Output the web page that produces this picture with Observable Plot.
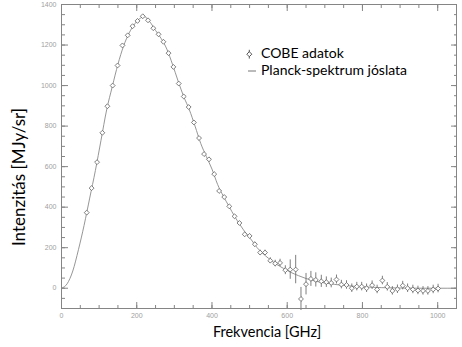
<!DOCTYPE html>
<html><head><meta charset="utf-8">
<script src="https://cdn.jsdelivr.net/npm/d3@7"></script>
<script src="https://cdn.jsdelivr.net/npm/@observablehq/plot@0.6"></script>
<style>body{margin:0;background:#fff}</style>
</head><body><div id="chart"></div>
<script>
// COBE data points (frequency, intensity, error)
const freq = [67, 80, 94.5, 108.6, 122, 136, 149, 162, 176, 189, 202, 216, 230, 244, 258, 271, 284.5, 297.5, 311.7, 325, 338, 352, 365.6, 379, 392, 406, 419, 432.6, 446, 460, 473, 487, 500, 514, 528, 541, 555, 568, 581, 595, 608, 622.5, 636.6, 650, 663, 676, 690.6, 704, 717, 731, 744, 757.6, 771.7, 785, 798, 811, 825.7, 839, 853, 866, 879.5, 893, 907, 920, 934, 947.5, 961, 974, 988, 1001];
const intensity = [373, 494, 622, 767, 898, 1000, 1099, 1198, 1248, 1293, 1319, 1342, 1322, 1283, 1253, 1216, 1160, 1092, 1010, 946, 894, 818, 741, 662, 636, 563, 480, 450, 404, 355, 322, 266, 258, 217, 176, 176, 136, 122, 125, 89, 92, 92, -53, 20, 46, 41, 34, 30, 26, 43, 18, 16, 0, 8, 8, 0, 15, -6, 38, 7, -13, -5, 13, 0, -6, -11, -13, -13, -6, -1.5];
const errorBar = [4, 4, 4, 4, 4, 4, 4, 4, 4, 4, 4, 4, 4, 4, 4, 4, 4, 4, 4, 4, 4, 4, 4, 4, 4, 4, 4, 4, 4, 5, 6, 8, 8, 10, 12, 12, 14, 16, 18, 22, 48, 70, 57, 53, 37, 35, 30, 26, 24, 22, 21, 21, 21, 21, 21, 21, 21, 21, 21, 21, 21, 21, 21, 21, 21, 21, 21, 21, 21, 21];
// Planck spectrum prediction
const curveFreq = [0, 15, 30, 45, 60, 75, 90, 105, 120, 135, 150, 165, 180, 195, 210, 220, 235, 250, 265, 280, 295, 310, 325, 340, 355, 370, 385, 400, 415, 430, 445, 460, 475, 490, 505, 520, 535, 550, 570, 590, 610, 630, 650, 675, 700, 750, 800, 850, 900, 950, 1000, 1050];
const curveIntensity = [0, 22, 85, 190, 310, 445, 580, 730, 880, 995, 1105, 1195, 1260, 1305, 1333, 1340, 1314, 1272, 1232, 1180, 1105, 1022, 945, 880, 800, 715, 650, 588, 512, 455, 405, 355, 312, 272, 238, 200, 172, 148, 120, 98, 78, 62, 48, 35, 26, 14, 7, 3, 1, 0, 0, 0];
// Tick values
const xMajorTicks = [0, 200, 400, 600, 800, 1000];
const xMinorTicks = [0, 50, 100, 150, 200, 250, 300, 350, 400, 450, 500, 550, 600, 650, 700, 750, 800, 850, 900, 950, 1000, 1050];
const yMajorTicks = [0, 200, 400, 600, 800, 1000, 1200, 1400];
const yMinorTicks = [-100, -50, 0, 50, 100, 150, 200, 250, 300, 350, 400, 450, 500, 550, 600, 650, 700, 750, 800, 850, 900, 950, 1000, 1050, 1100, 1150, 1200, 1250, 1300, 1350, 1400];

const cobe = freq.map((f, i) => ({f, I: intensity[i], e: errorBar[i]}));
const planck = curveFreq.map((f, i) => ({f, I: curveIntensity[i]}));

const axisColor = "#858585";
const labelColor = "#a0a0a0";
const fmt = d3.format("d");

const plot = Plot.plot({
  width: 462, height: 347,
  marginLeft: 61, marginRight: 6, marginTop: 4, marginBottom: 39,
  x: {domain: [0, 1050], label: null},
  y: {domain: [-100, 1400], label: null},
  style: {fontFamily: "'Liberation Sans', sans-serif", fontSize: "7px", background: "white", overflow: "visible"},
  marks: [
    Plot.line(planck, {x: "f", y: "I", stroke: "#8a8a8a", strokeWidth: 0.9, curve: "monotone-x"}),
    Plot.ruleX(cobe, {x: "f", y1: d => d.I - d.e, y2: d => d.I + d.e, stroke: "#707070", strokeWidth: 0.9}),
    Plot.dot(cobe, {x: "f", y: "I", symbol: "diamond2", r: 2.2, stroke: "#606060", fill: "white", strokeWidth: 0.8}),
    Plot.frame({stroke: axisColor}),
    // inward ticks
    Plot.axisX(xMinorTicks, {anchor: "bottom", tickSize: -3, fill: "none", stroke: axisColor, label: null}),
    Plot.axisX(xMajorTicks, {anchor: "bottom", tickSize: -6, fill: "none", stroke: axisColor, label: null}),
    Plot.axisX(xMinorTicks, {anchor: "top", tickSize: -3, fill: "none", stroke: axisColor, label: null}),
    Plot.axisX(xMajorTicks, {anchor: "top", tickSize: -6, fill: "none", stroke: axisColor, label: null}),
    Plot.axisY(yMinorTicks, {anchor: "left", tickSize: -4, fill: "none", stroke: axisColor, label: null}),
    Plot.axisY(yMajorTicks, {anchor: "left", tickSize: -7, fill: "none", stroke: axisColor, label: null}),
    Plot.axisY(yMinorTicks, {anchor: "right", tickSize: -3, fill: "none", stroke: axisColor, label: null}),
    Plot.axisY(yMajorTicks, {anchor: "right", tickSize: -6, fill: "none", stroke: axisColor, label: null}),
    // tick labels
    Plot.axisX(xMajorTicks, {anchor: "bottom", tickSize: 0, tickPadding: 5, stroke: "none", fill: labelColor, label: null, tickFormat: fmt}),
    Plot.axisY(yMajorTicks, {anchor: "left", tickSize: 0, tickPadding: 5, stroke: "none", fill: labelColor, label: null, tickFormat: fmt})
  ]
});
document.getElementById("chart").appendChild(plot);

const svg = d3.select(plot);
const titleFont = "Lato, 'Open Sans', sans-serif";
svg.append("text")
  .attr("transform", "translate(21,177) rotate(-90)")
  .attr("text-anchor", "middle").attr("dominant-baseline", "middle")
  .attr("font-family", titleFont).attr("font-size", 17).attr("fill", "#000")
  .text("Intenzitás [MJy/sr]");
svg.append("text")
  .attr("x", 267).attr("y", 333)
  .attr("text-anchor", "middle").attr("dominant-baseline", "middle")
  .attr("font-family", titleFont).attr("font-size", 14.5).attr("fill", "#000")
  .text("Frekvencia [GHz]");

// legend
const lg = svg.append("g");
lg.append("line").attr("x1", 249.3).attr("x2", 249.3).attr("y1", 49.8).attr("y2", 58.6)
  .attr("stroke", "#444").attr("stroke-width", 0.9);
lg.append("path").attr("transform", "translate(249.3,54.2)")
  .attr("d", d3.symbol(d3.symbolDiamond2, 16)())
  .attr("fill", "white").attr("stroke", "#444").attr("stroke-width", 0.9);
lg.append("text").attr("x", 261).attr("y", 54).attr("dominant-baseline", "middle").attr("text-anchor", "start")
  .attr("font-family", titleFont).attr("font-size", 14).attr("fill", "#000").text("COBE adatok");
lg.append("line").attr("x1", 248).attr("x2", 256).attr("y1", 71).attr("y2", 71)
  .attr("stroke", "#666").attr("stroke-width", 0.9);
lg.append("text").attr("x", 261).attr("y", 71).attr("dominant-baseline", "middle").attr("text-anchor", "start")
  .attr("font-family", titleFont).attr("font-size", 14).attr("fill", "#000").text("Planck-spektrum jóslata");
</script>
</body></html>
